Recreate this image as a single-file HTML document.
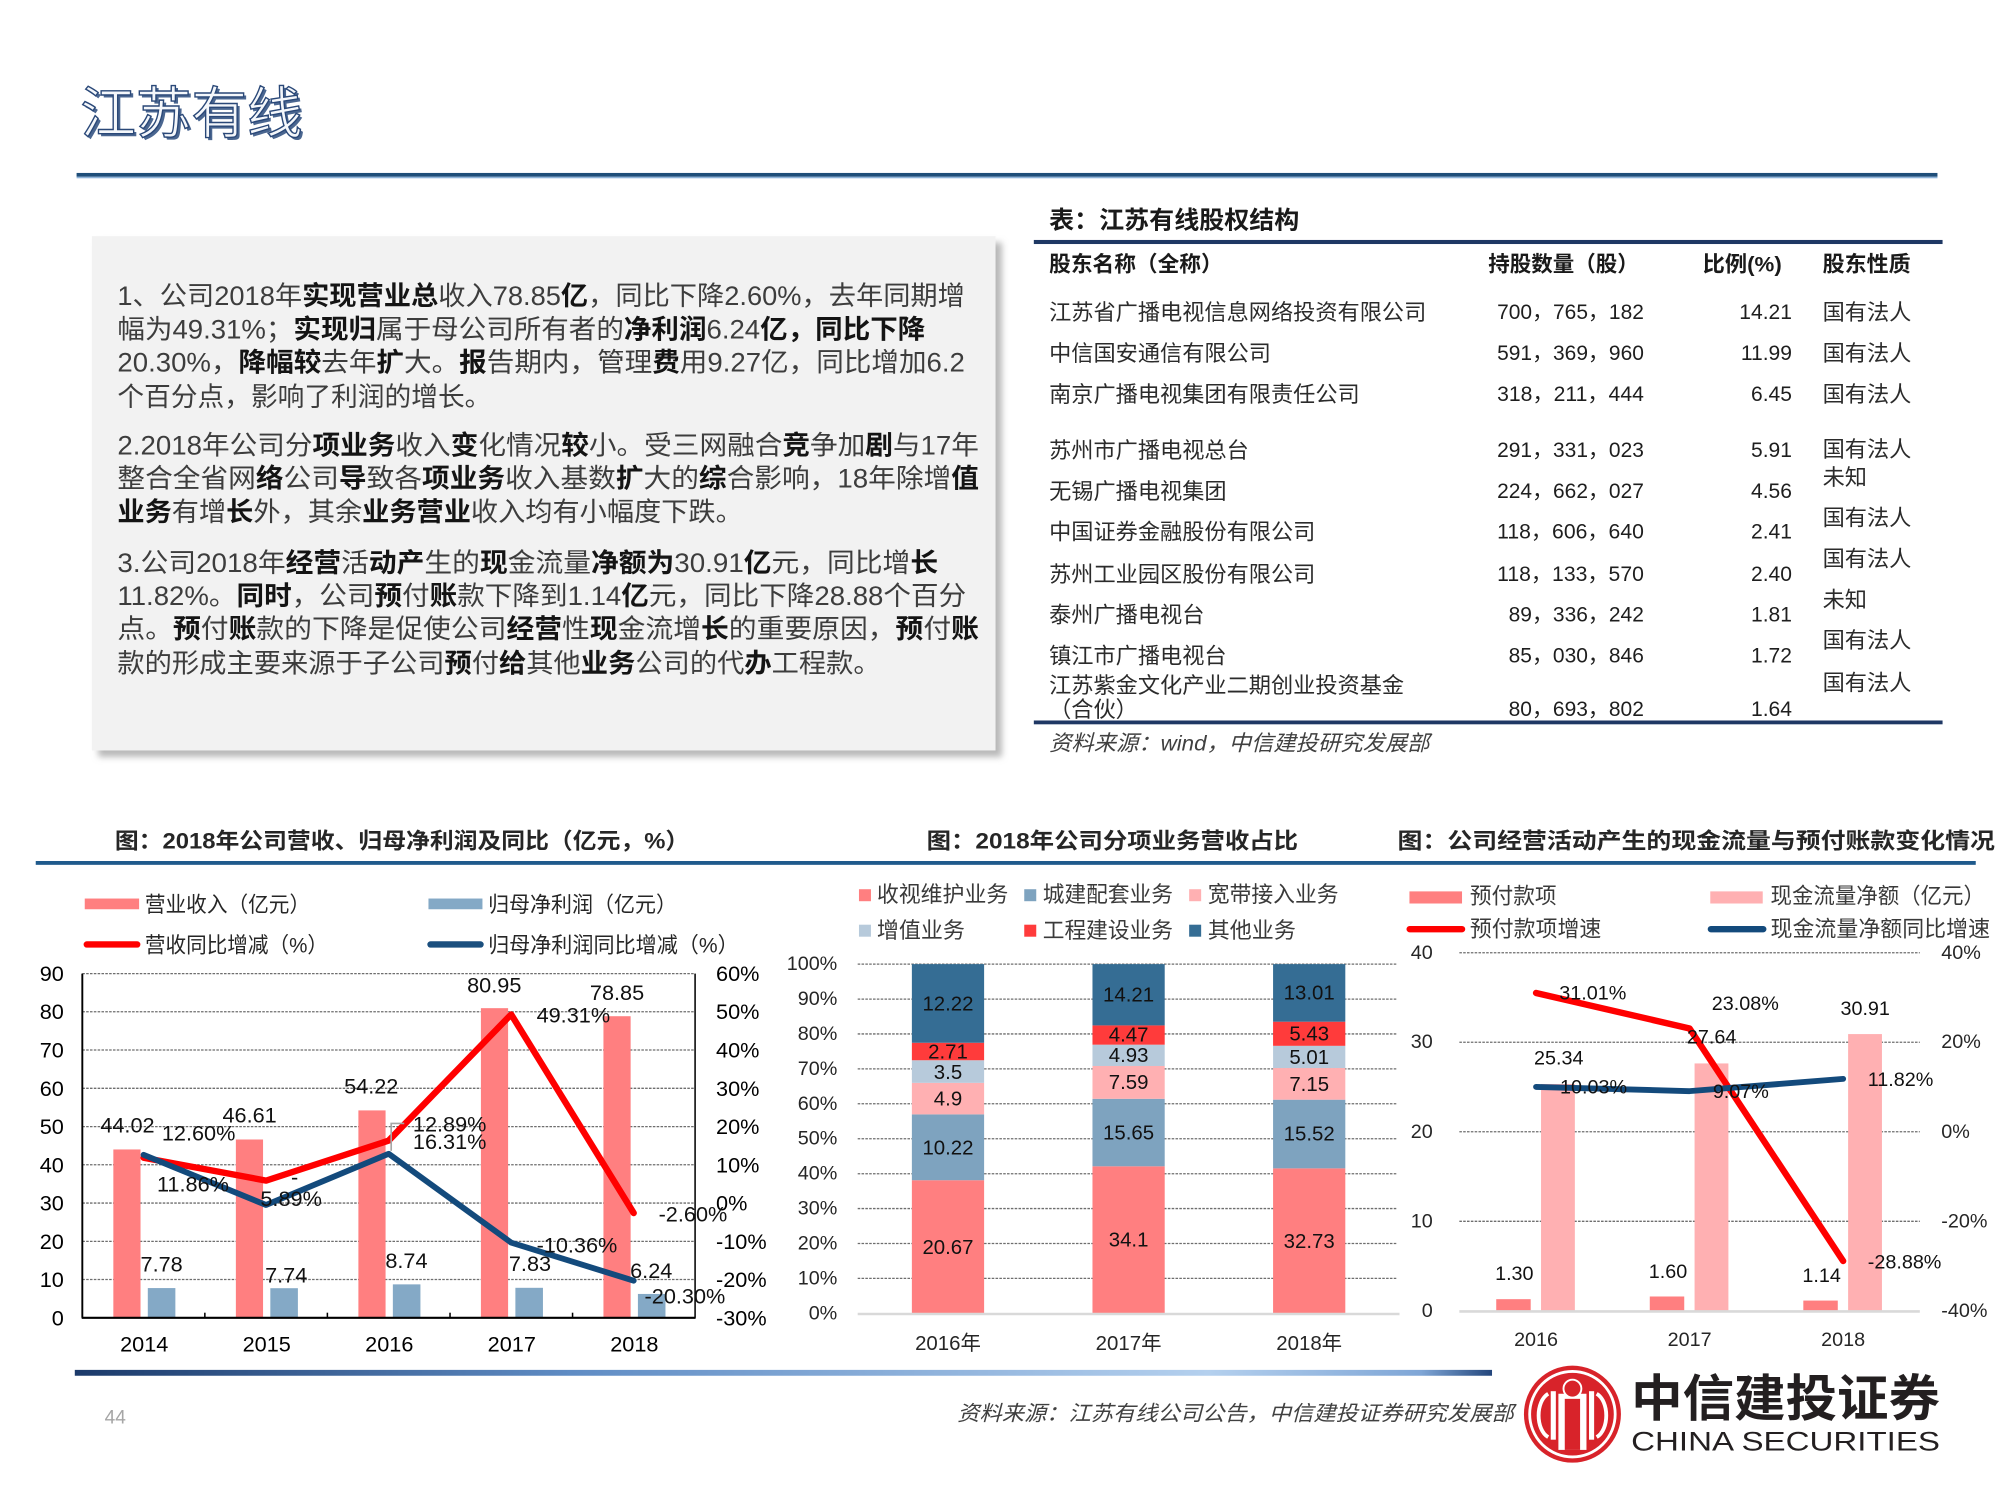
<!DOCTYPE html>
<html><head><meta charset="utf-8"><style>
html,body{margin:0;padding:0;background:#fff;}
svg{display:block;}
.b{font-weight:700;fill:#141414;}
.t{fill:#3d3d3d;}
</style></head><body>
<svg xmlns="http://www.w3.org/2000/svg" width="2000" height="1500" viewBox="0 0 1567 1175.25" preserveAspectRatio="none" font-family="'Liberation Sans','Noto Sans CJK SC',sans-serif">
<defs>
<linearGradient id="fg" x1="0" x2="1" y1="0" y2="0">
<stop offset="0" stop-color="#1b3a6a"/><stop offset="0.35" stop-color="#5f8cc4"/><stop offset="0.8" stop-color="#b4d0ee"/><stop offset="0.95" stop-color="#7fa6d6"/><stop offset="1" stop-color="#23467c"/>
</linearGradient>
<filter id="sh" x="-5%" y="-5%" width="110%" height="110%"><feGaussianBlur stdDeviation="2.5"/></filter>
</defs>

<!-- Title -->
<text x="65" y="91" font-size="44" dominant-baseline="central" fill="#4a6690" textLength="174" lengthAdjust="spacingAndGlyphs">江苏有线</text>
<text x="63" y="89" font-size="44" dominant-baseline="central" fill="#f4f7fb" stroke="#2a4878" stroke-width="1.1" textLength="174" lengthAdjust="spacingAndGlyphs">江苏有线</text>
<rect x="60" y="135.5" width="1458" height="3" fill="#1f4e79"/>
<rect x="60" y="138.5" width="1458" height="1.2" fill="#8fb4d9"/>

<!-- Text box -->
<rect x="77" y="190" width="708" height="403" fill="#b8b8b8" filter="url(#sh)"/>
<rect x="72" y="185" width="708" height="403" fill="#f2f2f2"/>
<g font-size="21" dominant-baseline="central" class="t" lengthAdjust="spacingAndGlyphs">
<text x="92" y="232" textLength="664" lengthAdjust="spacingAndGlyphs" class="t">1、公司2018年<tspan class="b">实现营业总</tspan>收入78.85<tspan class="b">亿</tspan>，同比下降2.60%，去年同期增</text>
<text x="92" y="258" textLength="633" lengthAdjust="spacingAndGlyphs" class="t">幅为49.31%；<tspan class="b">实现归</tspan>属于母公司所有者的<tspan class="b">净利润</tspan>6.24<tspan class="b">亿，同比下降</tspan></text>
<text x="92" y="284" textLength="664" lengthAdjust="spacingAndGlyphs" class="t">20.30%，<tspan class="b">降幅较</tspan>去年<tspan class="b">扩</tspan>大。<tspan class="b">报</tspan>告期内，管理<tspan class="b">费</tspan>用9.27亿，同比增加6.2</text>
<text x="92" y="311" textLength="293" lengthAdjust="spacingAndGlyphs" class="t">个百分点，影响了利润的增长。</text>
<text x="92" y="349" textLength="675" lengthAdjust="spacingAndGlyphs" class="t">2.2018年公司分<tspan class="b">项业务</tspan>收入<tspan class="b">变</tspan>化情况<tspan class="b">较</tspan>小。受三网融合<tspan class="b">竞</tspan>争加<tspan class="b">剧</tspan>与17年</text>
<text x="92" y="375" textLength="675" lengthAdjust="spacingAndGlyphs" class="t">整合全省网<tspan class="b">络</tspan>公司<tspan class="b">导</tspan>致各<tspan class="b">项业务</tspan>收入基数<tspan class="b">扩</tspan>大的<tspan class="b">综</tspan>合影响，18年除增<tspan class="b">值</tspan></text>
<text x="92" y="401" textLength="490" lengthAdjust="spacingAndGlyphs" class="t"><tspan class="b">业务</tspan>有增<tspan class="b">长</tspan>外，其余<tspan class="b">业务营业</tspan>收入均有小幅度下跌。</text>
<text x="92" y="441" textLength="643" lengthAdjust="spacingAndGlyphs" class="t">3.公司2018年<tspan class="b">经营</tspan>活<tspan class="b">动产</tspan>生的<tspan class="b">现</tspan>金流量<tspan class="b">净额为</tspan>30.91<tspan class="b">亿</tspan>元，同比增<tspan class="b">长</tspan></text>
<text x="92" y="467" textLength="665" lengthAdjust="spacingAndGlyphs" class="t">11.82%。<tspan class="b">同时</tspan>，公司<tspan class="b">预</tspan>付<tspan class="b">账</tspan>款下降到1.14<tspan class="b">亿</tspan>元，同比下降28.88个百分</text>
<text x="92" y="493" textLength="675" lengthAdjust="spacingAndGlyphs" class="t">点。<tspan class="b">预</tspan>付<tspan class="b">账</tspan>款的下降是促使公司<tspan class="b">经营</tspan>性<tspan class="b">现</tspan>金流增<tspan class="b">长</tspan>的重要原因，<tspan class="b">预</tspan>付<tspan class="b">账</tspan></text>
<text x="92" y="520" textLength="598" lengthAdjust="spacingAndGlyphs" class="t">款的形成主要来源于子公司<tspan class="b">预</tspan>付<tspan class="b">给</tspan>其他<tspan class="b">业务</tspan>公司的代<tspan class="b">办</tspan>工程款。</text>
</g>

<!-- Table -->
<text x="822" y="173" font-size="19" font-weight="700" fill="#1a1a1a" dominant-baseline="central" textLength="196" lengthAdjust="spacingAndGlyphs">表：江苏有线股权结构</text>
<rect x="810" y="188" width="712" height="3.2" fill="#1f3864"/>
<g font-size="17" font-weight="700" fill="#1a1a1a" dominant-baseline="central">
<text x="822" y="207" textLength="136" lengthAdjust="spacingAndGlyphs">股东名称（全称）</text>
<text x="1166" y="207" textLength="118" lengthAdjust="spacingAndGlyphs">持股数量（股）</text>
<text x="1334" y="207" textLength="62" lengthAdjust="spacingAndGlyphs">比例(%)</text>
<text x="1428" y="207" textLength="69" lengthAdjust="spacingAndGlyphs">股东性质</text>
</g>
<g font-size="17.4" fill="#2b2b2b" dominant-baseline="central">
<text x="822" y="245">江苏省广播电视信息网络投资有限公司</text>
<text x="822" y="277">中信国安通信有限公司</text>
<text x="822" y="309">南京广播电视集团有限责任公司</text>
<text x="822" y="353">苏州市广播电视总台</text>
<text x="822" y="385">无锡广播电视集团</text>
<text x="822" y="417">中国证券金融股份有限公司</text>
<text x="822" y="450">苏州工业园区股份有限公司</text>
<text x="822" y="482">泰州广播电视台</text>
<text x="822" y="514">镇江市广播电视台</text>
<text x="822" y="537">江苏紫金文化产业二期创业投资基金</text>
<text x="822" y="556">（合伙）</text>
<text x="1428" y="245">国有法人</text>
<text x="1428" y="277">国有法人</text>
<text x="1428" y="309">国有法人</text>
<text x="1428" y="352">国有法人</text>
<text x="1428" y="374">未知</text>
<text x="1428" y="406">国有法人</text>
<text x="1428" y="438">国有法人</text>
<text x="1428" y="470">未知</text>
<text x="1428" y="502">国有法人</text>
<text x="1428" y="535">国有法人</text>
</g>
<g font-size="16.5" fill="#1e1e1e" dominant-baseline="central">
<text x="1173" y="245" textLength="115" lengthAdjust="spacingAndGlyphs">700，765，182</text>
<text x="1173" y="277" textLength="115" lengthAdjust="spacingAndGlyphs">591，369，960</text>
<text x="1173" y="309" textLength="115" lengthAdjust="spacingAndGlyphs">318，211，444</text>
<text x="1173" y="353" textLength="115" lengthAdjust="spacingAndGlyphs">291，331，023</text>
<text x="1173" y="385" textLength="115" lengthAdjust="spacingAndGlyphs">224，662，027</text>
<text x="1173" y="417" textLength="115" lengthAdjust="spacingAndGlyphs">118，606，640</text>
<text x="1173" y="450" textLength="115" lengthAdjust="spacingAndGlyphs">118，133，570</text>
<text x="1182" y="482" textLength="106" lengthAdjust="spacingAndGlyphs">89，336，242</text>
<text x="1182" y="514" textLength="106" lengthAdjust="spacingAndGlyphs">85，030，846</text>
<text x="1182" y="556" textLength="106" lengthAdjust="spacingAndGlyphs">80，693，802</text>
</g>
<g font-size="16.5" fill="#1e1e1e" dominant-baseline="central" text-anchor="end">
<text x="1404" y="245">14.21</text>
<text x="1404" y="277">11.99</text>
<text x="1404" y="309">6.45</text>
<text x="1404" y="353">5.91</text>
<text x="1404" y="385">4.56</text>
<text x="1404" y="417">2.41</text>
<text x="1404" y="450">2.40</text>
<text x="1404" y="482">1.81</text>
<text x="1404" y="514">1.72</text>
<text x="1404" y="556">1.64</text>
</g>
<rect x="810" y="564.5" width="712" height="3" fill="#1f3864"/>
<text x="822" y="582" font-size="17" font-style="italic" fill="#404040" dominant-baseline="central" textLength="298" lengthAdjust="spacingAndGlyphs">资料来源：wind，中信建投研究发展部</text>

<!-- Chart titles & rule -->
<g font-size="17.5" font-weight="700" fill="#262626" dominant-baseline="central">
<text x="90" y="659" textLength="450" lengthAdjust="spacingAndGlyphs">图：2018年公司营收、归母净利润及同比（亿元，%）</text>
<text x="726" y="659" textLength="291" lengthAdjust="spacingAndGlyphs">图：2018年公司分项业务营收占比</text>
<text x="1095" y="659" textLength="468" lengthAdjust="spacingAndGlyphs">图：公司经营活动产生的现金流量与预付账款变化情况</text>
</g>
<rect x="28" y="674.6" width="1520" height="3" fill="#1f5a8c"/>

<!-- ===== Chart 1 ===== -->
<g font-size="17" fill="#262626" dominant-baseline="central">
<rect x="66.4" y="704" width="42.6" height="8.4" fill="#ff7f80"/>
<text x="113.5" y="708.5" textLength="129.5" lengthAdjust="spacingAndGlyphs">营业收入（亿元）</text>
<rect x="335.7" y="704" width="42.3" height="8.4" fill="#84a9c6"/>
<text x="382.4" y="708.5" textLength="148" lengthAdjust="spacingAndGlyphs">归母净利润（亿元）</text>
<line x1="68" y1="740" x2="107.5" y2="740" stroke="#ff0000" stroke-width="5" stroke-linecap="round"/>
<text x="113.5" y="740.5" textLength="143.5" lengthAdjust="spacingAndGlyphs">营收同比增减（%）</text>
<line x1="337.3" y1="740" x2="376.5" y2="740" stroke="#1b4f7e" stroke-width="5" stroke-linecap="round"/>
<text x="382.4" y="740.5" textLength="196.4" lengthAdjust="spacingAndGlyphs">归母净利润同比增减（%）</text>
</g>
<g stroke="#6e6e6e" stroke-width="1" stroke-dasharray="2,1">
<line x1="64.5" y1="762.8" x2="544.6" y2="762.8"/>
<line x1="64.5" y1="792.7" x2="544.6" y2="792.7"/>
<line x1="64.5" y1="822.7" x2="544.6" y2="822.7"/>
<line x1="64.5" y1="852.7" x2="544.6" y2="852.7"/>
<line x1="64.5" y1="882.7" x2="544.6" y2="882.7"/>
<line x1="64.5" y1="912.6" x2="544.6" y2="912.6"/>
<line x1="64.5" y1="942.6" x2="544.6" y2="942.6"/>
<line x1="64.5" y1="972.6" x2="544.6" y2="972.6"/>
<line x1="64.5" y1="1002.5" x2="544.6" y2="1002.5"/>
</g>
<g fill="#ff7f80">
<rect x="88.8" y="900.6" width="21.3" height="131.9"/>
<rect x="184.8" y="892.8" width="21.3" height="139.7"/>
<rect x="280.8" y="870.0" width="21.3" height="162.5"/>
<rect x="376.8" y="789.9" width="21.3" height="242.6"/>
<rect x="472.8" y="796.2" width="21.3" height="236.3"/>
</g>
<g fill="#84a9c6">
<rect x="115.8" y="1009.2" width="21.6" height="23.3"/>
<rect x="211.8" y="1009.3" width="21.6" height="23.2"/>
<rect x="307.8" y="1006.3" width="21.6" height="26.2"/>
<rect x="403.8" y="1009.0" width="21.6" height="23.5"/>
<rect x="499.8" y="1013.8" width="21.6" height="18.7"/>
</g>
<line x1="64.5" y1="762.8" x2="64.5" y2="1032.5" stroke="#000" stroke-width="1.5"/>
<line x1="544.6" y1="762.8" x2="544.6" y2="1032.5" stroke="#000" stroke-width="1.2"/>
<line x1="64" y1="1032.5" x2="545" y2="1032.5" stroke="#000" stroke-width="1.6"/>
<g stroke="#000" stroke-width="1.2">
<line x1="160.5" y1="1032.5" x2="160.5" y2="1028.5"/>
<line x1="256.5" y1="1032.5" x2="256.5" y2="1028.5"/>
<line x1="352.6" y1="1032.5" x2="352.6" y2="1028.5"/>
<line x1="448.6" y1="1032.5" x2="448.6" y2="1028.5"/>
</g>
<polyline points="112.5,907.1 208.5,925.0 304.5,893.7 400.5,794.8 496.5,950.4" fill="none" stroke="#ff0000" stroke-width="5" stroke-linejoin="round" stroke-linecap="round"/>
<polyline points="112.5,904.8 208.5,944.1 304.5,904.0 400.5,973.6 496.5,1003.4" fill="none" stroke="#134a7c" stroke-width="4.6" stroke-linejoin="round" stroke-linecap="round"/>
<polyline points="316.7,880.2 306.5,880.2 306.5,901.7" fill="none" stroke="#a6a6a6" stroke-width="1.3"/>
<g font-size="17" fill="#000" dominant-baseline="central" text-anchor="end">
<text x="50" y="1032.5">0</text>
<text x="50" y="1002.5">10</text>
<text x="50" y="972.6">20</text>
<text x="50" y="942.6">30</text>
<text x="50" y="912.6">40</text>
<text x="50" y="882.7">50</text>
<text x="50" y="852.7">60</text>
<text x="50" y="822.7">70</text>
<text x="50" y="792.7">80</text>
<text x="50" y="762.8">90</text>
</g>
<g font-size="17" fill="#000" dominant-baseline="central">
<text x="561" y="1032.5">-30%</text>
<text x="561" y="1002.5">-20%</text>
<text x="561" y="972.6">-10%</text>
<text x="561" y="942.6">0%</text>
<text x="561" y="912.6">10%</text>
<text x="561" y="882.7">20%</text>
<text x="561" y="852.7">30%</text>
<text x="561" y="822.7">40%</text>
<text x="561" y="792.7">50%</text>
<text x="561" y="762.8">60%</text>
</g>
<g font-size="17" fill="#000" dominant-baseline="central" text-anchor="middle">
<text x="113" y="1053">2014</text>
<text x="209" y="1053">2015</text>
<text x="305" y="1053">2016</text>
<text x="401" y="1053">2017</text>
<text x="497" y="1053">2018</text>
</g>
<g font-size="17" fill="#111" dominant-baseline="central">
<text x="78.6" y="881.3">44.02</text>
<text x="126.8" y="887.7">12.60%</text>
<text x="123" y="927.7">11.86%</text>
<text x="174.3" y="873.7">46.61</text>
<text x="228" y="922">-</text>
<text x="204" y="938.9">5.89%</text>
<text x="269.6" y="850.8">54.22</text>
<text x="323.5" y="880.7">12.89%</text>
<text x="323.5" y="894.2">16.31%</text>
<text x="366" y="771.6">80.95</text>
<text x="420.4" y="795.4">49.31%</text>
<text x="462.2" y="777.8">78.85</text>
<text x="420.4" y="975.3">-10.36%</text>
<text x="516" y="951.2">-2.60%</text>
<text x="110.1" y="990.4">7.78</text>
<text x="207.7" y="998.8">7.74</text>
<text x="301.9" y="987.6">8.74</text>
<text x="398.7" y="989.8">7.83</text>
<text x="493.7" y="995.4">6.24</text>
<text x="505" y="1015.5">-20.30%</text>
</g>

<!-- ===== Chart 2 ===== -->
<g font-size="17.5" fill="#3a3a3a" dominant-baseline="central">
<rect x="673" y="696.7" width="9.4" height="9.4" fill="#ff7f80"/>
<text x="687" y="701" textLength="103" lengthAdjust="spacingAndGlyphs">收视维护业务</text>
<rect x="802.5" y="696.7" width="9.4" height="9.4" fill="#7ea3bf"/>
<text x="817" y="701" textLength="102" lengthAdjust="spacingAndGlyphs">城建配套业务</text>
<rect x="931.7" y="696.7" width="9.4" height="9.4" fill="#ffb0b2"/>
<text x="946.3" y="701" textLength="102.5" lengthAdjust="spacingAndGlyphs">宽带接入业务</text>
<rect x="673" y="724.5" width="9.4" height="9.4" fill="#b7cadb"/>
<text x="687" y="729" textLength="69" lengthAdjust="spacingAndGlyphs">增值业务</text>
<rect x="802.5" y="724.5" width="9.4" height="9.4" fill="#ff3b3b"/>
<text x="817" y="729" textLength="102" lengthAdjust="spacingAndGlyphs">工程建设业务</text>
<rect x="931.7" y="724.5" width="9.4" height="9.4" fill="#356d94"/>
<text x="946.3" y="729" textLength="69" lengthAdjust="spacingAndGlyphs">其他业务</text>
</g>
<g stroke="#6e6e6e" stroke-width="1" stroke-dasharray="2,1">
<line x1="672" y1="755.4" x2="1095" y2="755.4"/>
<line x1="672" y1="782.8" x2="1095" y2="782.8"/>
<line x1="672" y1="810.1" x2="1095" y2="810.1"/>
<line x1="672" y1="837.5" x2="1095" y2="837.5"/>
<line x1="672" y1="864.8" x2="1095" y2="864.8"/>
<line x1="672" y1="892.2" x2="1095" y2="892.2"/>
<line x1="672" y1="919.6" x2="1095" y2="919.6"/>
<line x1="672" y1="946.9" x2="1095" y2="946.9"/>
<line x1="672" y1="974.3" x2="1095" y2="974.3"/>
<line x1="672" y1="1001.6" x2="1095" y2="1001.6"/>
</g>
<!-- 2016 -->
<rect x="714.45" y="924.7" width="56.6" height="104.3" fill="#ff7f80"/>
<rect x="714.45" y="873.1" width="56.6" height="51.6" fill="#7ea3bf"/>
<rect x="714.45" y="848.4" width="56.6" height="24.7" fill="#ffb0b2"/>
<rect x="714.45" y="830.7" width="56.6" height="17.7" fill="#b7cadb"/>
<rect x="714.45" y="817.0" width="56.6" height="13.7" fill="#ff3b3b"/>
<rect x="714.45" y="755.4" width="56.6" height="61.6" fill="#356d94"/>
<!-- 2017 -->
<rect x="855.95" y="913.8" width="56.6" height="115.2" fill="#ff7f80"/>
<rect x="855.95" y="860.9" width="56.6" height="52.9" fill="#7ea3bf"/>
<rect x="855.95" y="835.2" width="56.6" height="25.7" fill="#ffb0b2"/>
<rect x="855.95" y="818.5" width="56.6" height="16.7" fill="#b7cadb"/>
<rect x="855.95" y="803.4" width="56.6" height="15.1" fill="#ff3b3b"/>
<rect x="855.95" y="755.4" width="56.6" height="48.0" fill="#356d94"/>
<!-- 2018 -->
<rect x="997.45" y="915.4" width="56.6" height="113.6" fill="#ff7f80"/>
<rect x="997.45" y="861.6" width="56.6" height="53.8" fill="#7ea3bf"/>
<rect x="997.45" y="836.8" width="56.6" height="24.8" fill="#ffb0b2"/>
<rect x="997.45" y="819.4" width="56.6" height="17.4" fill="#b7cadb"/>
<rect x="997.45" y="800.5" width="56.6" height="18.9" fill="#ff3b3b"/>
<rect x="997.45" y="755.4" width="56.6" height="45.1" fill="#356d94"/>
<line x1="672" y1="1029.5" x2="1096.5" y2="1029.5" stroke="#d9d9d9" stroke-width="2"/>
<g font-size="16" fill="#111" dominant-baseline="central" text-anchor="middle">
<text x="742.75" y="978">20.67</text>
<text x="742.75" y="900">10.22</text>
<text x="742.75" y="861.5">4.9</text>
<text x="742.75" y="840.5">3.5</text>
<text x="742.75" y="824.5">2.71</text>
<text x="742.75" y="787">12.22</text>
<text x="884.25" y="972">34.1</text>
<text x="884.25" y="888">15.65</text>
<text x="884.25" y="848.5">7.59</text>
<text x="884.25" y="827.5">4.93</text>
<text x="884.25" y="811.5">4.47</text>
<text x="884.25" y="780">14.21</text>
<text x="1025.75" y="973">32.73</text>
<text x="1025.75" y="889">15.52</text>
<text x="1025.75" y="850">7.15</text>
<text x="1025.75" y="829">5.01</text>
<text x="1025.75" y="810.5">5.43</text>
<text x="1025.75" y="778.5">13.01</text>
</g>
<g font-size="15.5" fill="#262626" dominant-baseline="central" text-anchor="end">
<text x="656" y="1029">0%</text>
<text x="656" y="1001.6">10%</text>
<text x="656" y="974.3">20%</text>
<text x="656" y="946.9">30%</text>
<text x="656" y="919.6">40%</text>
<text x="656" y="892.2">50%</text>
<text x="656" y="864.8">60%</text>
<text x="656" y="837.5">70%</text>
<text x="656" y="810.1">80%</text>
<text x="656" y="782.8">90%</text>
<text x="656" y="755.4">100%</text>
</g>
<g font-size="16" fill="#262626" dominant-baseline="central" text-anchor="middle">
<text x="742.75" y="1053">2016年</text>
<text x="884.25" y="1053">2017年</text>
<text x="1025.75" y="1053">2018年</text>
</g>

<!-- ===== Chart 3 ===== -->
<g font-size="17.5" fill="#3a3a3a" dominant-baseline="central">
<rect x="1104.3" y="698.4" width="41.2" height="9.5" fill="#ff7f80"/>
<text x="1151.6" y="702" textLength="68" lengthAdjust="spacingAndGlyphs">预付款项</text>
<rect x="1340" y="698.4" width="41.1" height="9.5" fill="#ffb0b2"/>
<text x="1387.2" y="702" textLength="168" lengthAdjust="spacingAndGlyphs">现金流量净额（亿元）</text>
<line x1="1104.5" y1="728" x2="1145.5" y2="728" stroke="#ff0000" stroke-width="5" stroke-linecap="round"/>
<text x="1151.6" y="728" textLength="103" lengthAdjust="spacingAndGlyphs">预付款项增速</text>
<line x1="1340.5" y1="728" x2="1381.5" y2="728" stroke="#134a7c" stroke-width="5" stroke-linecap="round"/>
<text x="1387.2" y="728" textLength="172" lengthAdjust="spacingAndGlyphs">现金流量净额同比增速</text>
</g>
<g stroke="#6e6e6e" stroke-width="1" stroke-dasharray="2,1">
<line x1="1143.4" y1="746.5" x2="1504.2" y2="746.5"/>
<line x1="1143.4" y1="816.6" x2="1504.2" y2="816.6"/>
<line x1="1143.4" y1="886.75" x2="1504.2" y2="886.75"/>
<line x1="1143.4" y1="956.9" x2="1504.2" y2="956.9"/>
</g>
<g fill="#ff7f80">
<rect x="1172.3" y="1017.9" width="27" height="9.1"/>
<rect x="1292.6" y="1015.8" width="27" height="11.2"/>
<rect x="1412.9" y="1019.0" width="27" height="8.0"/>
</g>
<g fill="#ffb0b2">
<rect x="1207.4" y="849.3" width="26.5" height="177.7"/>
<rect x="1327.7" y="833.2" width="26.5" height="193.8"/>
<rect x="1448.0" y="810.2" width="26.5" height="216.8"/>
</g>
<line x1="1143.4" y1="1027.5" x2="1504.2" y2="1027.5" stroke="#d9d9d9" stroke-width="2"/>
<polyline points="1203.5,778.0 1323.8,805.8 1444.1,988.0" fill="none" stroke="#ff0000" stroke-width="5" stroke-linejoin="round" stroke-linecap="round"/>
<polyline points="1203.5,851.6 1323.8,854.9 1444.1,845.3" fill="none" stroke="#134a7c" stroke-width="4.6" stroke-linejoin="round" stroke-linecap="round"/>
<g font-size="15.5" fill="#111" dominant-baseline="central">
<text x="1221.7" y="778.6">31.01%</text>
<text x="1341.2" y="786.5">23.08%</text>
<text x="1442" y="790.7">30.91</text>
<text x="1321.7" y="813">27.64</text>
<text x="1201.9" y="829.5">25.34</text>
<text x="1222.3" y="852.2">10.03%</text>
<text x="1342" y="855.6">9.07%</text>
<text x="1463.4" y="846.3">11.82%</text>
<text x="1463.4" y="989.3">-28.88%</text>
<text x="1171.4" y="998.2">1.30</text>
<text x="1291.8" y="996.8">1.60</text>
<text x="1412.2" y="999.6">1.14</text>
</g>
<g font-size="15.5" fill="#262626" dominant-baseline="central" text-anchor="end">
<text x="1122.6" y="746.5">40</text>
<text x="1122.6" y="816.6">30</text>
<text x="1122.6" y="886.75">20</text>
<text x="1122.6" y="956.9">10</text>
<text x="1122.6" y="1027">0</text>
</g>
<g font-size="15.5" fill="#262626" dominant-baseline="central">
<text x="1521" y="746.5">40%</text>
<text x="1521" y="816.6">20%</text>
<text x="1521" y="886.75">0%</text>
<text x="1521" y="956.9">-20%</text>
<text x="1521" y="1027">-40%</text>
</g>
<g font-size="15.5" fill="#262626" dominant-baseline="central" text-anchor="middle">
<text x="1203.5" y="1050">2016</text>
<text x="1323.8" y="1050">2017</text>
<text x="1444.1" y="1050">2018</text>
</g>

<!-- Footer -->
<rect x="58.6" y="1073.3" width="1110.4" height="4.6" fill="url(#fg)"/>
<text x="82" y="1111" font-size="15" fill="#a6a6a6" dominant-baseline="central">44</text>
<text x="750" y="1108" font-size="16.5" font-style="italic" fill="#404040" dominant-baseline="central" textLength="436" lengthAdjust="spacingAndGlyphs">资料来源：江苏有线公司公告，中信建投证券研究发展部</text>

<!-- Logo -->
<circle cx="1232" cy="1108" r="38" fill="#d8232a"/>
<circle cx="1232" cy="1108" r="33.5" fill="none" stroke="#fff" stroke-width="2.2"/>
<g fill="none" stroke="#fff" stroke-width="3">
<path d="M1213,1092 C1203,1098 1203,1120 1213,1126"/>
<path d="M1251,1092 C1261,1098 1261,1120 1251,1126"/>
</g>
<rect x="1215" y="1090" width="4" height="38" fill="#fff"/>
<rect x="1245" y="1090" width="4" height="38" fill="#fff"/>
<rect x="1221" y="1092" width="22" height="44" fill="#fff"/>
<rect x="1226" y="1096" width="12" height="40" fill="#d8232a"/>
<circle cx="1232" cy="1088" r="7" fill="#d8232a" stroke="#fff" stroke-width="1.5"/>
<text x="1278" y="1096" font-size="39" font-weight="700" fill="#231f20" dominant-baseline="central" textLength="242" lengthAdjust="spacingAndGlyphs">中信建投证券</text>
<text x="1278" y="1136.5" font-size="21" fill="#231f20" textLength="242" lengthAdjust="spacingAndGlyphs">CHINA SECURITIES</text>
</svg>
</body></html>
